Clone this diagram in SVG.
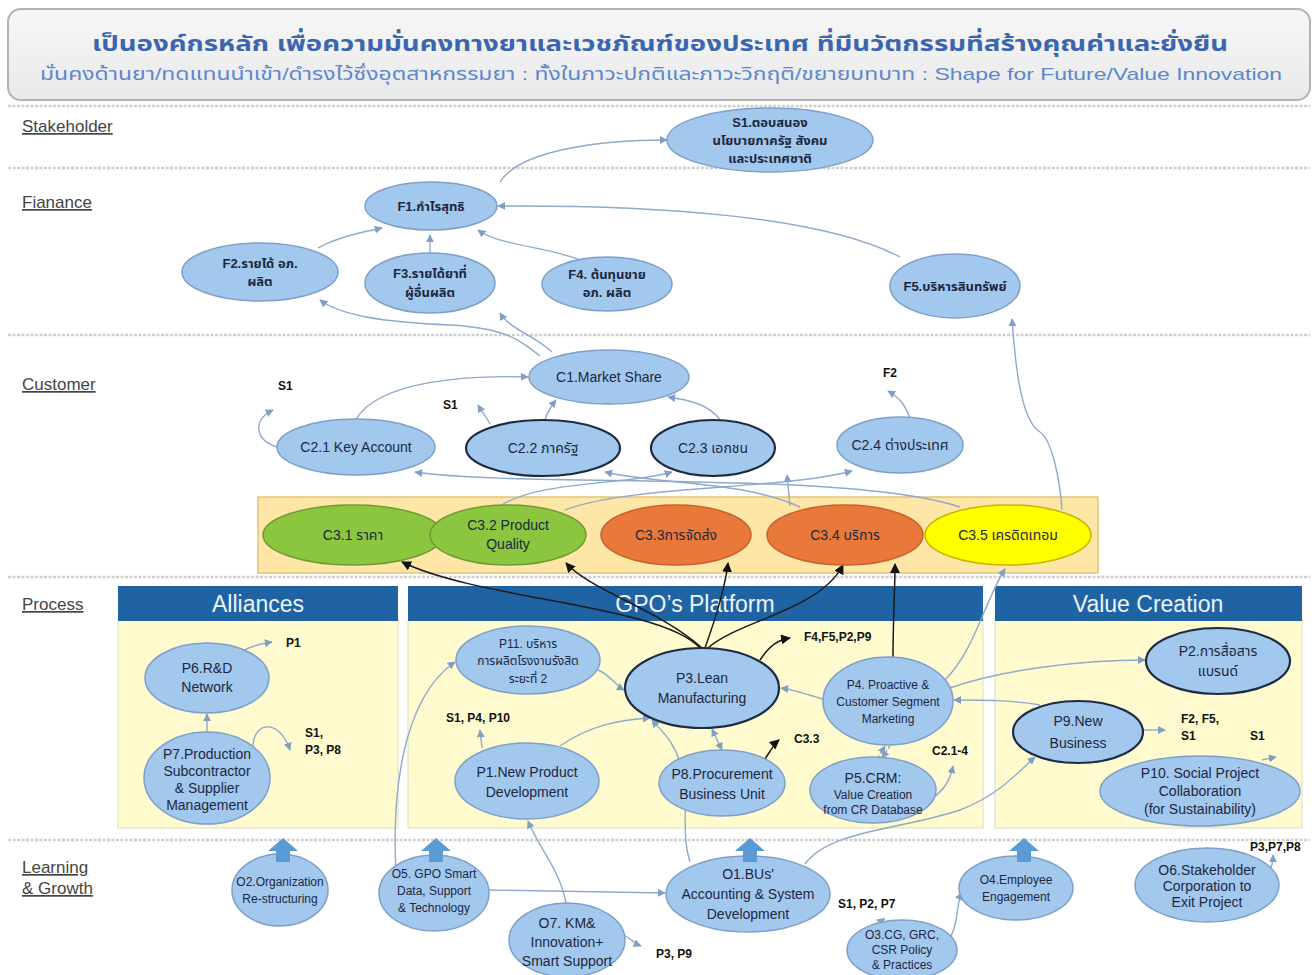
<svg xmlns="http://www.w3.org/2000/svg" width="1314" height="975" viewBox="0 0 1314 975">
<defs>
<marker id="ag" viewBox="0 0 10 10" refX="9" refY="5" markerWidth="8" markerHeight="8" markerUnits="userSpaceOnUse" orient="auto-start-reverse"><path d="M0,0 L10,5 L0,10 z" fill="#7f9fc4"/></marker>
<marker id="ak" viewBox="0 0 10 10" refX="9" refY="5" markerWidth="10" markerHeight="10" markerUnits="userSpaceOnUse" orient="auto"><path d="M0,0 L10,5 L0,10 z" fill="#111"/></marker>
<linearGradient id="hg" x1="0" y1="0" x2="0" y2="1"><stop offset="0" stop-color="#f7f7f7"/><stop offset="1" stop-color="#e9e9e9"/></linearGradient>
</defs>
<style>
text{font-family:"Liberation Sans","Noto Sans Thai","Noto Sans","DejaVu Sans",sans-serif}
.n{fill:#a3c8ee;stroke:#7d9fc8;stroke-width:1.5}
.nd{fill:#a3c8ee;stroke:#1d2a44;stroke-width:2.2}
.t{fill:#1b2740;font-size:14px;text-anchor:middle}
.ts{fill:#1b2740;font-size:12px;text-anchor:middle}
.tb{fill:#1b2740;font-size:13px;text-anchor:middle;font-weight:bold}
.g{fill:#8cc63f;stroke:#6f9a35;stroke-width:1.5}
.o{fill:#e8793a;stroke:#c9612a;stroke-width:1.5}
.y{fill:#ffff00;stroke:#c8b400;stroke-width:1.5}
.e{fill:none;stroke:#8eaacc;stroke-width:1.4;marker-end:url(#ag)}
.k{fill:none;stroke:#1a1a1a;stroke-width:1.5;marker-end:url(#ak)}
.lbl{fill:#111;font-size:12px;font-weight:bold}
.sec{fill:#444;font-size:17px;text-decoration:underline}
.sep{stroke:#cfcfcf;stroke-width:2.5;stroke-dasharray:3 1.5}
.ph{fill:#1f63a3}
.pb{fill:#fffbcf;stroke:#dcdcc4;stroke-width:1}
.pt{fill:#eef4fb;font-size:23px;text-anchor:middle}
.ba{fill:#5b9bd5}
</style>

<g id="header">
<rect x="8" y="9" width="1302" height="91" rx="13" fill="url(#hg)" stroke="#b3b3b3" stroke-width="2"/>
<text x="660" y="51" text-anchor="middle" font-size="22" font-weight="bold" fill="#3a66b0" textLength="1136" lengthAdjust="spacingAndGlyphs">เป็นองค์กรหลัก  เพื่อความมั่นคงทางยาและเวชภัณฑ์ของประเทศ  ที่มีนวัตกรรมที่สร้างคุณค่าและยั่งยืน</text>
<text x="661" y="80" text-anchor="middle" font-size="17" fill="#5b87cc" textLength="1242" lengthAdjust="spacingAndGlyphs">มั่นคงด้านยา/ทดแทนนำเข้า/ดำรงไว้ซึ่งอุตสาหกรรมยา : ทั้งในภาวะปกติและภาวะวิกฤติ/ขยายบทบาท : Shape for Future/Value Innovation</text>
</g>

<g id="separators">
<line class="sep" x1="8" y1="106" x2="1310" y2="106"/>
<line class="sep" x1="8" y1="168" x2="1310" y2="168"/>
<line class="sep" x1="8" y1="335" x2="1310" y2="335"/>
<line class="sep" x1="8" y1="577" x2="1310" y2="577"/>
<line class="sep" x1="8" y1="840" x2="1310" y2="840"/>
</g>

<g id="section-labels">
<text class="sec" x="22" y="132">Stakeholder</text>
<text class="sec" x="22" y="208">Fianance</text>
<text class="sec" x="22" y="390">Customer</text>
<text class="sec" x="22" y="610">Process</text>
<text class="sec" x="22" y="873">Learning</text>
<text class="sec" x="22" y="894">&amp; Growth</text>
</g>

<g id="c3-band"><rect x="258" y="497" width="840" height="76" fill="#fde6a6" stroke="#e5c27a" stroke-width="1.5"/></g>

<g id="panels">
<rect class="pb" x="118" y="620" width="280" height="208"/>
<rect class="ph" x="118" y="586" width="280" height="35"/>
<text class="pt" x="258" y="612">Alliances</text>
<rect class="pb" x="408" y="620" width="575" height="208"/>
<rect class="ph" x="408" y="586" width="575" height="35"/>
<text class="pt" x="695" y="612">GPO’s Platform</text>
<rect class="pb" x="995" y="620" width="307" height="208"/>
<rect class="ph" x="995" y="586" width="307" height="35"/>
<text class="pt" x="1148" y="612">Value Creation</text>
</g>

<g id="connectors">
<path class="e" d="M500 182 C520 150,600 140,667 140"/>
<path class="e" d="M900 257 C820 215,650 205,498 206"/>
<path class="e" d="M318 248 C340 236,360 233,382 228"/>
<path class="e" d="M430 253 L430 235"/>
<path class="e" d="M580 260 C545 246,500 246,478 230"/>
<path class="e" d="M540 356 C520 340,505 328,450 325 C380 322,340 315,320 300"/>
<path class="e" d="M552 352 C535 335,510 330,500 313"/>
<path class="e" d="M356 419 C380 380,470 375,528 377"/>
<path class="e" d="M277 447 C255 440,252 420,273 410"/>
<path class="e" d="M545 420 C548 410,552 405,556 400"/>
<path class="e" d="M490 424 C485 415,482 412,478 405"/>
<path class="e" d="M720 420 C710 405,690 400,668 397"/>
<path class="e" d="M910 418 C905 405,900 398,888 391"/>
<path class="e" d="M960 507 C850 470,520 488,415 472"/>
<path class="e" d="M800 507 C740 480,660 485,605 472"/>
<path class="e" d="M500 506 C540 480,630 485,672 472"/>
<path class="e" d="M790 506 L787 475"/>
<path class="e" d="M565 510 C630 485,780 490,852 471"/>
<path class="e" d="M1062 510 C1060 480,1052 440,1040 432 C1020 420,1015 360,1012 319"/>
<path class="e" d="M945 680 C975 650,985 600,1005 569"/>
<path class="e" d="M950 688 C1000 670,1080 660,1145 660"/>
<path class="e" d="M1040 705 C1010 700,985 700,954 700"/>
<path class="e" d="M825 700 C810 695,795 690,781 688"/>
<path class="e" d="M878 758 L885 746" stroke-dasharray="3 2"/>
<path class="e" d="M890 746 L882 758" stroke-dasharray="3 2"/>
<path class="e" d="M930 800 C945 790,950 780,953 766"/>
<path class="e" d="M722 750 L712 729" marker-start="url(#ag)"/>
<path class="e" d="M560 746 C590 725,620 720,650 718"/>
<path class="e" d="M482 748 L480 730"/>
<path class="e" d="M598 670 C610 675,615 685,624 690"/>
<path class="e" d="M396 872 C392 800,400 700,455 662"/>
<path class="e" d="M566 903 C560 870,540 850,528 821"/>
<path class="e" d="M690 862 C680 830,690 800,682 770 C675 740,660 730,652 720"/>
<path class="e" d="M805 864 C830 830,900 830,960 810 C1000 795,1020 770,1035 757"/>
<path class="e" d="M489 890 L665 893"/>
<path class="e" d="M624 935 C632 940,636 944,641 946"/>
<path class="e" d="M893 924 L877 920"/>
<path class="e" d="M950 938 C960 920,955 905,962 893"/>
<path class="e" d="M1268 872 C1272 868,1273 862,1273 855"/>
<path class="e" d="M207 732 L207 714"/>
<path class="e" d="M253 745 C255 720,280 720,290 750"/>
<path class="e" d="M242 652 C250 646,260 644,272 642"/>
<path class="e" d="M1143 730 L1165 730"/>
<path class="e" d="M1262 760 L1276 757"/>
<path class="k" d="M700 648 C660 605,480 600,402 562"/>
<path class="k" d="M702 648 C660 610,590 590,566 563"/>
<path class="k" d="M705 648 C715 620,725 590,728 563"/>
<path class="k" d="M708 648 C740 620,820 610,843 565"/>
<path class="k" d="M893 657 C893 620,895 590,895 564"/>
<path class="k" d="M760 660 C770 645,778 640,790 638"/>
<path class="k" d="M763 762 C770 752,773 745,779 740"/>
</g>

<g id="S1"><ellipse class="n" cx="770" cy="140" rx="103" ry="32"/><text class="tb" x="770" y="127">S1.ตอบสนอง</text><text class="tb" x="770" y="145">นโยบายภาครัฐ สังคม</text><text class="tb" x="770" y="163">และประเทศชาติ</text></g>
<g id="F1"><ellipse class="n" cx="431" cy="206" rx="66" ry="24"/><text class="tb" x="431" y="211">F1.กำไรสุทธิ</text></g>
<g id="F2"><ellipse class="n" cx="260" cy="272" rx="78" ry="29"/><text class="tb" x="260" y="268">F2.รายได้ อภ.</text><text class="tb" x="260" y="286">ผลิต</text></g>
<g id="F3"><ellipse class="n" cx="430" cy="283" rx="65" ry="30"/><text class="tb" x="430" y="278">F3.รายได้ยาที่</text><text class="tb" x="430" y="297">ผู้อื่นผลิต</text></g>
<g id="F4"><ellipse class="n" cx="607" cy="284" rx="65" ry="27"/><text class="tb" x="607" y="279">F4. ต้นทุนขาย</text><text class="tb" x="607" y="297">อภ. ผลิต</text></g>
<g id="F5"><ellipse class="n" cx="955" cy="286" rx="65" ry="32"/><text class="tb" x="955" y="291">F5.บริหารสินทรัพย์</text></g>
<g id="C1"><ellipse class="n" cx="609" cy="377" rx="80" ry="27"/><text class="t" x="609" y="382">C1.Market Share</text></g>
<g id="C2-1"><ellipse class="n" cx="356" cy="447" rx="79" ry="28"/><text class="t" x="356" y="452">C2.1 Key Account</text></g>
<g id="C2-2"><ellipse class="nd" cx="543" cy="448" rx="77" ry="28"/><text class="t" x="543" y="453">C2.2 ภาครัฐ</text></g>
<g id="C2-3"><ellipse class="nd" cx="713" cy="448" rx="62" ry="28"/><text class="t" x="713" y="453">C2.3 เอกชน</text></g>
<g id="C2-4"><ellipse class="n" cx="900" cy="445" rx="63" ry="28"/><text class="t" x="900" y="450">C2.4 ต่างประเทศ</text></g>
<g id="C3-1"><ellipse class="g" cx="353" cy="535" rx="90" ry="30"/><text class="t" x="353" y="540">C3.1 ราคา</text></g>
<g id="C3-2"><ellipse class="g" cx="508" cy="535" rx="78" ry="30"/><text class="t" x="508" y="530">C3.2 Product</text><text class="t" x="508" y="549">Quality</text></g>
<g id="C3-3"><ellipse class="o" cx="676" cy="535" rx="75" ry="30"/><text class="t" x="676" y="540">C3.3การจัดส่ง</text></g>
<g id="C3-4"><ellipse class="o" cx="845" cy="535" rx="78" ry="30"/><text class="t" x="845" y="540">C3.4 บริการ</text></g>
<g id="C3-5"><ellipse class="y" cx="1008" cy="535" rx="83" ry="30"/><text class="t" x="1008" y="540">C3.5 เครดิตเทอม</text></g>

<g id="P6"><ellipse class="n" cx="207" cy="678" rx="62" ry="35"/><text class="t" x="207" y="673" font-size="15">P6.R&amp;D</text><text class="t" x="207" y="692" font-size="15">Network</text></g>
<g id="P7"><ellipse class="n" cx="207" cy="778" rx="63" ry="46"/><text class="t" x="207" y="759" font-size="15">P7.Production</text><text class="t" x="207" y="776" font-size="15">Subcontractor</text><text class="t" x="207" y="793" font-size="15">&amp; Supplier</text><text class="t" x="207" y="810" font-size="15">Management</text></g>
<g id="P11"><ellipse class="n" cx="528" cy="660" rx="72" ry="34"/><text class="ts" x="528" y="648" font-size="13">P11. บริหาร</text><text class="ts" x="528" y="665" font-size="13">การผลิตโรงงานรังสิต</text><text class="ts" x="528" y="683" font-size="13">ระยะที่ 2</text></g>
<g id="P3"><ellipse class="nd" cx="702" cy="688" rx="77" ry="40"/><text class="t" x="702" y="683" font-size="15">P3.Lean</text><text class="t" x="702" y="703" font-size="15">Manufacturing</text></g>
<g id="P4"><ellipse class="n" cx="888" cy="701" rx="65" ry="44"/><text class="ts" x="888" y="689" font-size="13">P4. Proactive &amp;</text><text class="ts" x="888" y="706" font-size="13">Customer Segment</text><text class="ts" x="888" y="723" font-size="13">Marketing</text></g>
<g id="P1"><ellipse class="n" cx="527" cy="781" rx="72" ry="38"/><text class="t" x="527" y="777" font-size="15">P1.New Product</text><text class="t" x="527" y="797" font-size="15">Development</text></g>
<g id="P8"><ellipse class="n" cx="722" cy="783" rx="63" ry="33"/><text class="t" x="722" y="779" font-size="15">P8.Procurement</text><text class="t" x="722" y="799" font-size="15">Business Unit</text></g>
<g id="P5"><ellipse class="n" cx="873" cy="790" rx="63" ry="33"/><text class="t" x="873" y="783" font-size="15">P5.CRM:</text><text class="ts" x="873" y="799" font-size="11">Value Creation</text><text class="ts" x="873" y="814" font-size="11">from CR Database</text></g>
<g id="P2"><ellipse class="nd" cx="1218" cy="661" rx="72" ry="33"/><text class="t" x="1218" y="656">P2.การสื่อสาร</text><text class="t" x="1218" y="676">แบรนด์</text></g>
<g id="P9"><ellipse class="nd" cx="1078" cy="732" rx="65" ry="31"/><text class="t" x="1078" y="726" font-size="17">P9.New</text><text class="t" x="1078" y="748" font-size="17">Business</text></g>
<g id="P10"><ellipse class="n" cx="1200" cy="791" rx="100" ry="35"/><text class="t" x="1200" y="778" font-size="15">P10. Social Project</text><text class="t" x="1200" y="796" font-size="15">Collaboration</text><text class="t" x="1200" y="814" font-size="15">(for Sustainability)</text></g>

<g id="O2"><ellipse class="n" cx="280" cy="890" rx="48" ry="36"/><text class="ts" x="280" y="886">O2.Organization</text><text class="ts" x="280" y="903">Re-structuring</text></g>
<g id="O5"><ellipse class="n" cx="434" cy="893" rx="55" ry="38"/><text class="ts" x="434" y="878" font-size="13">O5. GPO Smart</text><text class="ts" x="434" y="895" font-size="13">Data, Support</text><text class="ts" x="434" y="912" font-size="13">&amp; Technology</text></g>
<g id="O7"><ellipse class="n" cx="567" cy="940" rx="58" ry="37"/><text class="t" x="567" y="928">O7. KM&amp;</text><text class="t" x="567" y="947">Innovation+</text><text class="t" x="567" y="966">Smart Support</text></g>
<g id="O1"><ellipse class="n" cx="748" cy="894" rx="82" ry="38"/><text class="t" x="748" y="879">O1.BUs'</text><text class="t" x="748" y="899">Accounting &amp; System</text><text class="t" x="748" y="919">Development</text></g>
<g id="O3"><ellipse class="n" cx="902" cy="950" rx="55" ry="30"/><text class="ts" x="902" y="939">O3.CG, GRC,</text><text class="ts" x="902" y="954">CSR Policy</text><text class="ts" x="902" y="969">&amp; Practices</text></g>
<g id="O4"><ellipse class="n" cx="1016" cy="888" rx="57" ry="32"/><text class="ts" x="1016" y="884" font-size="13">O4.Employee</text><text class="ts" x="1016" y="901" font-size="13">Engagement</text></g>
<g id="O6"><ellipse class="n" cx="1207" cy="885" rx="72" ry="37"/><text class="t" x="1207" y="875">O6.Stakeholder</text><text class="t" x="1207" y="891">Corporation to</text><text class="t" x="1207" y="907">Exit Project</text></g>

<g id="block-arrows">
<path class="ba" d="M276 862 V851 H268 L283 838 L298 851 H290 V862 Z"/>
<path class="ba" d="M429 862 V851 H421 L436 838 L451 851 H443 V862 Z"/>
<path class="ba" d="M743 862 V851 H735 L750 838 L765 851 H757 V862 Z"/>
<path class="ba" d="M1017 862 V851 H1009 L1024 838 L1039 851 H1031 V862 Z"/>
</g>

<g id="labels">
<text class="lbl" x="278" y="390">S1</text>
<text class="lbl" x="443" y="409">S1</text>
<text class="lbl" x="883" y="377">F2</text>
<text class="lbl" x="286" y="647">P1</text>
<text class="lbl" x="305" y="737">S1,</text>
<text class="lbl" x="305" y="754">P3, P8</text>
<text class="lbl" x="804" y="641">F4,F5,P2,P9</text>
<text class="lbl" x="446" y="722">S1, P4, P10</text>
<text class="lbl" x="794" y="743">C3.3</text>
<text class="lbl" x="932" y="755">C2.1-4</text>
<text class="lbl" x="1181" y="723">F2, F5,</text>
<text class="lbl" x="1181" y="740">S1</text>
<text class="lbl" x="1250" y="740">S1</text>
<text class="lbl" x="1250" y="851">P3,P7,P8</text>
<text class="lbl" x="838" y="908">S1, P2, P7</text>
<text class="lbl" x="656" y="958">P3, P9</text>
</g>
</svg>
